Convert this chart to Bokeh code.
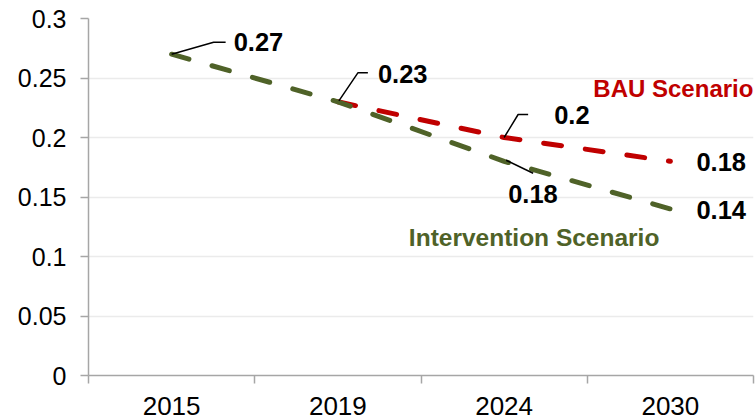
import math
from bokeh.plotting import figure
from bokeh.models import Range1d, FixedTicker
from bokeh.core.properties import value
from bokeh.embed import file_html
from bokeh.resources import INLINE

# ---- data ----
years = ["2015", "2019", "2024", "2030"]
bau = [float("nan"), 0.23, 0.20, 0.18]
intervention = [0.27, 0.23, 0.18, 0.14]
y_ticks = [0, 0.05, 0.1, 0.15, 0.2, 0.25, 0.3]
y_tick_labels = ["0", "0.05", "0.1", "0.15", "0.2", "0.25", "0.3"]
bau_name = "BAU Scenario"
int_name = "Intervention Scenario"

# ---- style ----
RED = "#c00000"
GREEN = "#4f6228"
AXIS = "#a6a6a6"
FONT = "Liberation Sans"
W, H = 755, 419
BL, BR, BT, BB = 88, 2, 18, 44
FW, FH = W - BL - BR, H - BT - BB
YMAX = 0.3

xs = [i + 0.5 for i in range(len(years))]
series = {"bau": bau, "int": intervention}

p = figure(width=W, height=H, output_backend="svg", toolbar_location=None,
           x_range=Range1d(0, len(years)), y_range=Range1d(0, YMAX),
           min_border_left=BL, min_border_right=BR, min_border_top=BT, min_border_bottom=BB)
p.outline_line_color = None
p.xgrid.grid_line_color = None
p.ygrid.grid_line_color = "#ebebeb"
p.ygrid.grid_line_width = 1.5
p.background_fill_color = "white"
p.border_fill_color = "white"

# y axis
p.yaxis.ticker = FixedTicker(ticks=y_ticks, minor_ticks=[])
p.yaxis.major_label_overrides = {t: l for t, l in zip(y_ticks, y_tick_labels)}
p.yaxis.axis_line_color = AXIS
p.yaxis.axis_line_width = 1.5
p.yaxis.major_tick_line_color = AXIS
p.yaxis.major_tick_line_width = 1.5
p.yaxis.major_tick_out = 8
p.yaxis.major_tick_in = 0
p.yaxis.major_label_standoff = 14
p.yaxis.major_label_text_font = FONT
p.yaxis.major_label_text_font_size = "25px"
p.yaxis.major_label_text_color = "black"

# x axis: labels at category centres, ticks at boundaries
p.xaxis.ticker = FixedTicker(ticks=xs, minor_ticks=list(range(len(years) + 1)))
p.xaxis.major_label_overrides = {x: y for x, y in zip(xs, years)}
p.xaxis.axis_line_color = AXIS
p.xaxis.axis_line_width = 1.5
p.xaxis.major_tick_line_color = None
p.xaxis.major_tick_out = 0
p.xaxis.major_tick_in = 0
p.xaxis.minor_tick_line_color = AXIS
p.xaxis.minor_tick_line_width = 1.5
p.xaxis.minor_tick_out = 8
p.xaxis.minor_tick_in = 0
p.xaxis.major_label_standoff = 13
p.xaxis.major_label_text_font = FONT
p.xaxis.major_label_text_font_size = "26px"
p.xaxis.major_label_text_color = "black"

# lines
p.line(xs, bau, line_color=RED, line_width=5, line_dash="18 24", line_cap="round")
p.line(xs, intervention, line_color=GREEN, line_width=5, line_dash="18 24", line_cap="round")

# pixel -> data conversion for annotation offsets
def off(x, y, dx, dy):
    return x + dx * len(years) / FW, y - dy * YMAX / FH

# data labels: (series, index, dx, dy) pixel offset of label left/middle
label_specs = [
    ("int", 0, 62, -12),
    ("int", 1, 40, -28),
    ("bau", 2, 50, -23),
    ("int", 2, 4, 33),
    ("bau", 3, 26, 1),
    ("int", 3, 26, 1),
]
lx, ly, lt = [], [], []
for s, i, dx, dy in label_specs:
    v = series[s][i]
    a, b = off(xs[i], v, dx, dy)
    lx.append(a); ly.append(b); lt.append(f"{v:g}")
p.text(x=lx, y=ly, text=lt, text_font=value(FONT), text_font_size="25.5px",
       text_font_style="bold", text_color="black", text_align="left", text_baseline="middle")

# leader lines
leaders = [
    ("int", 0, [(0, 0), (42, -12), (54, -12)]),
    ("int", 1, [(1, -1), (20, -29), (30, -29)]),
    ("bau", 2, [(0, 0), (14, -23), (24, -23)]),
    ("int", 2, [(2, -1), (29, 12)]),
]
mxs, mys = [], []
for s, i, pts in leaders:
    v = series[s][i]
    cx, cy = [], []
    for dx, dy in pts:
        a, b = off(xs[i], v, dx, dy)
        cx.append(a); cy.append(b)
    mxs.append(cx); mys.append(cy)
p.multi_line(mxs, mys, line_color="black", line_width=1.5)

# series names
bx, by = off(xs[3], bau[3], 3, -73)
p.text(x=[bx], y=[by], text=[bau_name], text_font=value(FONT), text_font_size="24px",
       text_font_style="bold", text_color=RED, text_align="center", text_baseline="middle")
ix, iy = off(xs[2], intervention[2], 30, 76)
p.text(x=[ix], y=[iy], text=[int_name], text_font=value(FONT), text_font_size="24.5px",
       text_font_style="bold", text_color=GREEN, text_align="center", text_baseline="middle")

open("out.html", "w").write(file_html(p, INLINE))
